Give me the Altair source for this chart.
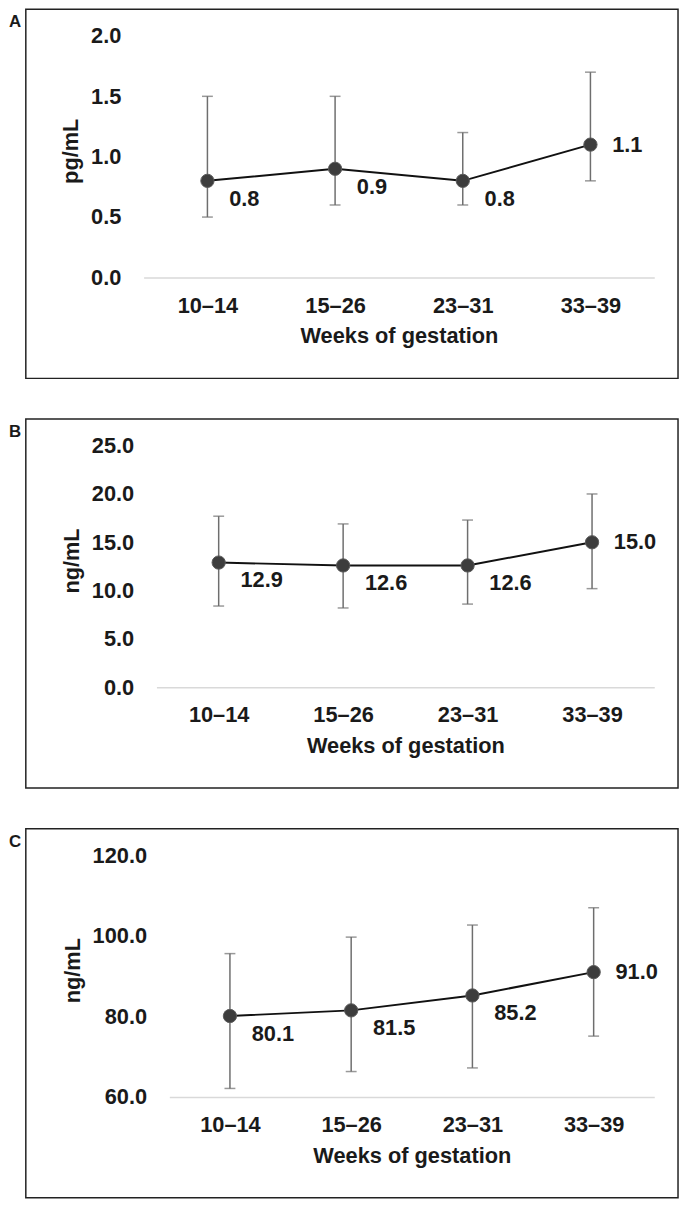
import altair as alt
import pandas as pd

# ---- data ----
weeks = ["10–14", "15–26", "23–31", "33–39"]

a_mean = [0.8, 0.9, 0.8, 1.1]
a_low = [0.5, 0.6, 0.6, 0.8]
a_high = [1.5, 1.5, 1.2, 1.7]

b_mean = [12.9, 12.6, 12.6, 15.0]
b_low = [8.4, 8.2, 8.6, 10.2]
b_high = [17.7, 16.9, 17.3, 20.0]

c_mean = [80.1, 81.5, 85.2, 91.0]
c_low = [62.1, 66.3, 67.2, 75.1]
c_high = [95.6, 99.7, 102.7, 107.0]

a_ticks = [0.0, 0.5, 1.0, 1.5, 2.0]
b_ticks = [0.0, 5.0, 10.0, 15.0, 20.0, 25.0]
c_ticks = [60.0, 80.0, 100.0, 120.0]

FONT = "Liberation Sans"
TXT = "#1a1a1a"

PLOT_W = 516
PLOT_H = 244
X0 = 144
BOX_L, BOX_R = 25, 684
BOX_TOP = -27     # box top relative to plot top
BOX_BOT = 346     # box bottom relative to plot top


def panel(letter, unit, mean, low, high, ticks, inset):
    df = pd.DataFrame({"week": weeks, "mean": mean, "low": low, "high": high})
    base = alt.Chart(df)
    xenc = alt.X(
        "week:N",
        sort=weeks,
        scale=alt.Scale(type="point", padding=0.5, range=[inset, PLOT_W]),
        axis=alt.Axis(
            title="Weeks of gestation",
            titleX=(inset + PLOT_W) / 2,
            labelAngle=0,
            labelFont=FONT, labelFontSize=22, labelFontWeight="bold", labelColor=TXT,
            labelPadding=18,
            titleFont=FONT, titleFontSize=22, titleFontWeight="bold", titleColor=TXT,
            titlePadding=10,
            ticks=False, tickSize=0,
            domain=True, domainColor="#d9d9d9", domainWidth=1.5,
            grid=False,
        ),
    )
    yscale = alt.Scale(domain=[ticks[0], ticks[-1]], nice=False, zero=False)
    yaxis = alt.Axis(
        title=unit,
        values=ticks,
        format=".1f",
        offset=-inset,
        labelFont=FONT, labelFontSize=22, labelFontWeight="bold", labelColor=TXT,
        labelPadding=23,
        titleFont=FONT, titleFontSize=22, titleFontWeight="bold", titleColor=TXT,
        titlePadding=8,
        titleY=PLOT_H / 2 - 6,
        ticks=False, domain=False, grid=False,
    )

    bars = base.mark_rule(color="#6e6e6e", strokeWidth=1.5).encode(
        x=xenc, y=alt.Y("low:Q", scale=yscale, axis=yaxis), y2="high:Q"
    )
    cap_lo = base.mark_tick(color="#6e6e6e", size=11, thickness=1.5, orient="horizontal").encode(
        x=xenc, y="low:Q"
    )
    cap_hi = base.mark_tick(color="#6e6e6e", size=11, thickness=1.5, orient="horizontal").encode(
        x=xenc, y="high:Q"
    )
    line = base.mark_line(color="#111111", strokeWidth=2).encode(x=xenc, y="mean:Q")
    pts = base.mark_circle(size=180, color="#3d3d3d", opacity=1, stroke="#5a5a5a", strokeWidth=1).encode(
        x=xenc, y="mean:Q"
    )
    lab_below = base.transform_filter(alt.datum.week != weeks[-1]).mark_text(
        align="left", baseline="middle", dx=22, dy=18,
        font=FONT, fontSize=22, fontWeight="bold", color=TXT,
    ).encode(x=xenc, y="mean:Q", text=alt.Text("mean:Q", format=".1f"))
    lab_right = base.transform_filter(alt.datum.week == weeks[-1]).mark_text(
        align="left", baseline="middle", dx=22, dy=0,
        font=FONT, fontSize=22, fontWeight="bold", color=TXT,
    ).encode(x=xenc, y="mean:Q", text=alt.Text("mean:Q", format=".1f"))

    one = alt.Data(values=[{"k": 0}])
    frame = alt.Chart(one).mark_rect(
        fillOpacity=0, stroke="#222222", strokeWidth=1.5
    ).encode(
        x=alt.value(BOX_L - X0), x2=alt.value(BOX_R - X0),
        y=alt.value(BOX_TOP), y2=alt.value(BOX_BOT),
    )
    tag = alt.Chart(one).mark_text(
        text=letter, align="left", baseline="middle",
        font=FONT, fontSize=17, fontWeight="bold", color=TXT,
    ).encode(x=alt.value(8 - X0), y=alt.value(BOX_TOP + 13))

    return alt.layer(frame, tag, bars, cap_lo, cap_hi, line, pts, lab_below, lab_right).properties(
        width=PLOT_W, height=PLOT_H, view=alt.ViewBackground(stroke="transparent")
    )


pa = panel("A", "pg/mL", a_mean, a_low, a_high, a_ticks, 0)
pb = panel("B", "ng/mL", b_mean, b_low, b_high, b_ticks, 13)
pc = panel("C", "ng/mL", c_mean, c_low, c_high, c_ticks, 26)

chart = (
    alt.vconcat(pa, pb, pc, spacing=37)
    .properties(padding={"left": 0, "top": -7, "right": 0, "bottom": 0})
    .configure_view(stroke="transparent")
    .configure(font=FONT)
)

chart.save("out.html", embed_options={"renderer": "svg", "actions": False})
